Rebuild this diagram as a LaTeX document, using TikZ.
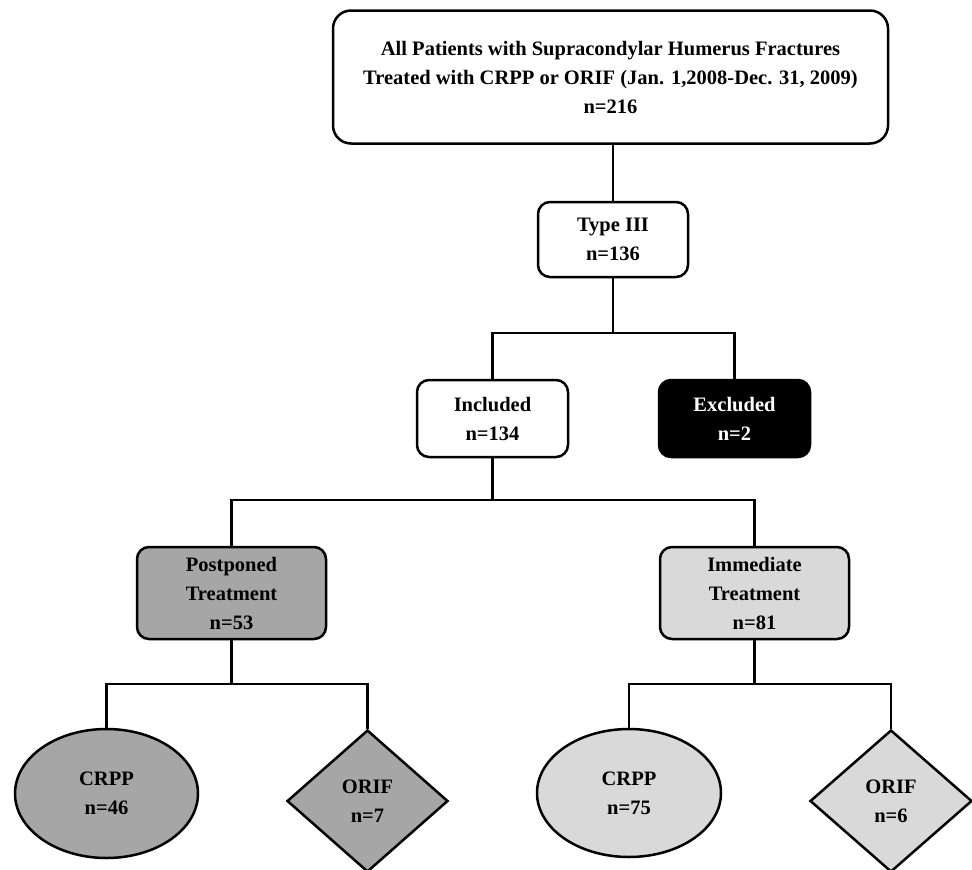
\documentclass[tikz,border=0pt]{standalone}
\usepackage{fontspec}
\setmainfont{Liberation Serif}
\usetikzlibrary{shapes.geometric}
\definecolor{darkfill}{HTML}{A6A6A6}
\definecolor{lightfill}{HTML}{D9D9D9}
\begin{document}
\begin{tikzpicture}[x=1pt,y=-1pt,
  every node/.style={font=\fontsize{20.5}{29}\selectfont\bfseries, align=center, inner sep=0pt},
  rbox/.style={draw, line width=2.5pt, rounded corners=12pt},
  ellnode/.style={draw, line width=2.5pt, ellipse},
  dianode/.style={draw, line width=2.5pt, diamond},
  conn/.style={line width=2.5pt}]
\useasboundingbox (0,0) rectangle (972,870);
\node[rbox, rounded corners=18pt, minimum width=555pt, minimum height=133pt] (top) at (610.5,77)
  {All Patients with Supracondylar Humerus Fractures\\Treated with CRPP or ORIF (Jan. 1,2008-Dec. 31, 2009)\\n=216};
\node[rbox, minimum width=150pt, minimum height=75pt] (t3) at (613,239.5) {Type III\\n=136};
\node[rbox, minimum width=151pt, minimum height=77pt] (inc) at (492.5,418.5) {Included\\n=134};
\node[rbox, fill=black, text=white, minimum width=151pt, minimum height=77pt] (exc) at (734.5,418.5) {Excluded\\n=2};
\node[rbox, fill=darkfill, minimum width=189pt, minimum height=92pt] (post) at (231.5,593) {Postponed\\Treatment\\n=53};
\node[rbox, fill=lightfill, minimum width=189pt, minimum height=92pt] (imm) at (754.5,593) {Immediate\\Treatment\\n=81};
\node[ellnode, fill=darkfill, minimum width=183pt, minimum height=129pt] (c1) at (106.5,793.5) {CRPP\\n=46};
\node[dianode, fill=darkfill, minimum width=161pt, minimum height=142pt] (o1) at (367.5,801) {ORIF\\n=7};
\node[ellnode, fill=lightfill, minimum width=184pt, minimum height=128pt] (c2) at (629,793) {CRPP\\n=75};
\node[dianode, fill=lightfill, minimum width=162pt, minimum height=142pt] (o2) at (891,801) {ORIF\\n=6};
\coordinate (b1) at (613,333);
\coordinate (b2) at (492.5,500);
\coordinate (b3) at (231.5,684);
\coordinate (b4) at (754.5,684);
\draw[conn] (top.south -| t3.north) -- (t3.north);
\draw[conn] (t3.south) -- (b1);
\draw[conn] (inc.north) |- (b1) -| (exc.north);
\draw[conn] (inc.south) -- (b2);
\draw[conn] (post.north) |- (b2) -| (imm.north);
\draw[conn] (post.south) -- (b3);
\draw[conn] (c1.north) |- (b3) -| (o1.north);
\draw[conn] (imm.south) -- (b4);
\draw[conn] (c2.north) |- (b4) -| (o2.north);
\end{tikzpicture}
\end{document}
